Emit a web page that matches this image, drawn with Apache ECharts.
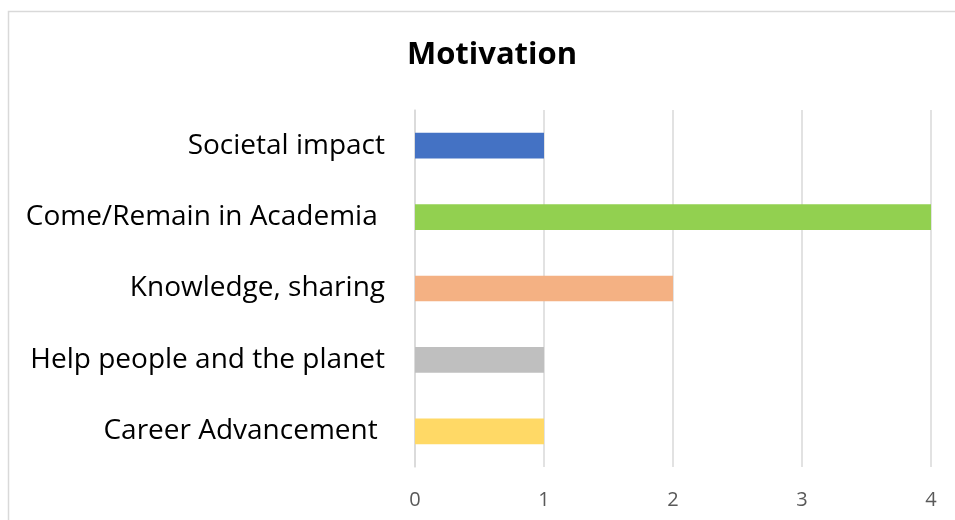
<!DOCTYPE html>
<html>
<head>
<meta charset="utf-8">
<style>
  html, body { margin: 0; padding: 0; background: #ffffff; }
  #chart { width: 955px; height: 520px; }
</style>
<script src="https://cdn.jsdelivr.net/npm/echarts@6/dist/echarts.min.js"></script>
</head>
<body>
<div id="chart"></div>
<script>
// Categories listed bottom-to-top (category axis on y grows upward)
const categories = [
  'Career Advancement ',
  'Help people and the planet',
  'Knowledge, sharing',
  'Come/Remain in Academia ',
  'Societal impact'
];
const values = [1, 1, 2, 4, 1];
const barColors = ['#FFD966', '#BFBFBF', '#F4B183', '#92D050', '#4472C4'];
const xTicks = [0, 1, 2, 3, 4];

const FONT = '"Open Sans", "Noto Sans", sans-serif';

const chart = echarts.init(document.getElementById('chart'), null, { renderer: 'canvas' });

chart.setOption({
  backgroundColor: '#ffffff',
  animation: false,
  title: {
    text: 'Motivation',
    left: 487,
    top: 35,
    textAlign: 'center',
    textStyle: { fontFamily: FONT, fontSize: 31, fontWeight: 'bold', color: '#000000' }
  },
  graphic: [{
    type: 'rect',
    shape: { x: 8.5, y: 11.5, width: 960, height: 520 },
    style: { fill: 'none', stroke: '#D9D9D9', lineWidth: 1.5 },
    silent: true
  }],
  grid: { left: 415, right: 24, top: 110, bottom: 53, containLabel: false },
  xAxis: {
    type: 'value',
    min: xTicks[0],
    max: xTicks[xTicks.length - 1],
    interval: 1,
    axisLine: { show: false },
    axisTick: { show: false },
    splitLine: { show: true, lineStyle: { color: '#D9D9D9', width: 1.5 } },
    axisLabel: { color: '#595959', fontFamily: FONT, fontSize: 20, margin: 23 }
  },
  yAxis: {
    type: 'category',
    data: categories,
    axisLine: { show: true, lineStyle: { color: '#D9D9D9', width: 1.5 } },
    axisTick: { show: false },
    axisLabel: { color: '#000000', fontFamily: FONT, fontSize: 28, margin: 30 }
  },
  series: [{
    type: 'bar',
    data: values.map((v, i) => ({ value: v, itemStyle: { color: barColors[i] } })),
    barWidth: '36%',
    silent: true
  }]
});
</script>
</body>
</html>
